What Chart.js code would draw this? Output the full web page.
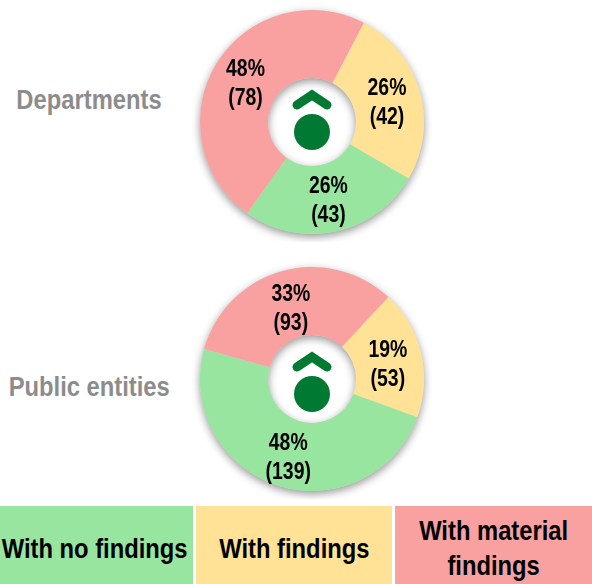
<!DOCTYPE html>
<html>
<head>
<meta charset="utf-8">
<script src="https://cdn.jsdelivr.net/npm/chart.js@4"></script>
<style>
html, body { margin: 0; padding: 0; background: #fff; }
body { position: relative; width: 592px; height: 584px; overflow: hidden; font-family: "Liberation Sans", sans-serif; font-weight: bold; }
canvas { position: absolute; }
.side { position: absolute; width: 178px; color: #8c8c8c; font-size: 27px; line-height: 30px; white-space: nowrap; text-align: center; transform: scaleX(0.88); }
.key { position: absolute; top: 506px; height: 78px; box-sizing: border-box; padding-top: 8px; display: flex; align-items: center; justify-content: center; text-align: center; color: #000; font-size: 27px; line-height: 35px; }
.key span { display: inline-block; white-space: nowrap; transform: scaleX(0.88); }
</style>
</head>
<body>
<div class="side" style="left:0;top:85px">Departments</div>
<div class="side" style="left:-2px;top:372px">Public entities</div>
<canvas id="departments_chart" width="240" height="240" style="left:192px;top:2px"></canvas>
<canvas id="entities_chart" width="240" height="240" style="left:192px;top:259px"></canvas>
<div class="key" style="left:0;width:193px;background:#98e5a0"><span style="margin-left:-4px">With no findings</span></div>
<div class="key" style="left:196px;width:196px;background:#ffe295"><span>With findings</span></div>
<div class="key" style="left:395px;width:197px;background:#f9a0a0"><span>With material<br>findings</span></div>
<script>
const categories = ['With findings', 'With no findings', 'With material findings'];
const colors = ['#ffe295', '#98e5a0', '#f9a0a0'];

const departmentValues = [42, 43, 78];
const departmentPercents = ['26%', '26%', '48%'];

const entityValues = [53, 139, 93];
const entityPercents = ['19%', '48%', '33%'];

// soft shadow under the ring, drawn before the slices go on top
const ringShadow = {
    id: 'ringShadow',
    beforeDatasetsDraw(chart) {
        const arc = chart.getDatasetMeta(0).data[0];
        const ctx = chart.ctx;
        ctx.save();
        ctx.shadowColor = 'rgba(0, 0, 0, 0.42)';
        ctx.shadowBlur = 8;
        ctx.shadowOffsetY = 3;
        ctx.fillStyle = '#ddd';
        ctx.beginPath();
        ctx.arc(arc.x, arc.y, arc.outerRadius, 0, Math.PI * 2);
        ctx.arc(arc.x, arc.y, arc.innerRadius, 0, Math.PI * 2, true);
        ctx.fill();
        ctx.restore();
    }
};

// no narrow font is installed, so the text is squeezed sideways
const sliceLabels = {
    id: 'sliceLabels',
    afterDatasetsDraw(chart, args, opts) {
        const ctx = chart.ctx;
        const values = chart.data.datasets[0].data;
        chart.getDatasetMeta(0).data.forEach((arc, i) => {
            const p = arc.getCenterPoint();
            ctx.save();
            ctx.translate(p.x, p.y + opts.shift);
            ctx.scale(0.81, 1);
            ctx.fillStyle = '#000';
            ctx.font = 'bold 24px "Liberation Sans"';
            ctx.textAlign = 'center';
            ctx.textBaseline = 'middle';
            ctx.fillText(opts.percents[i], 0, -14);
            ctx.fillText('(' + values[i] + ')', 0, 15);
            ctx.restore();
        });
    }
};

// green logo in the hole of the ring
const centerLogo = {
    id: 'centerLogo',
    afterDraw(chart, args, opts) {
        const arc = chart.getDatasetMeta(0).data[0];
        const y = arc.y + opts.shift;
        const ctx = chart.ctx;
        ctx.save();
        ctx.fillStyle = '#007a33';
        ctx.strokeStyle = '#007a33';
        ctx.lineWidth = 9;
        ctx.lineCap = 'round';
        ctx.beginPath();
        ctx.moveTo(arc.x - 15, y - 17);
        ctx.lineTo(arc.x, y - 27);
        ctx.lineTo(arc.x + 15, y - 17);
        ctx.stroke();
        ctx.beginPath();
        ctx.arc(arc.x, y + 10, 18, 0, Math.PI * 2);
        ctx.fill();
        ctx.restore();
    }
};

const donut = (id, values, percents, rotation, labelShift, logoShift) => {
    new Chart(document.getElementById(id), {
        type: 'doughnut',
        data: {
            labels: categories,
            datasets: [{
                data: values,
                backgroundColor: colors,
                borderWidth: 0
            }]
        },
        options: {
            responsive: false,
            animation: false,
            rotation: rotation,
            radius: 112,
            cutout: '39.3%',
            plugins: {
                legend: { display: false },
                tooltip: { enabled: false },
                sliceLabels: { percents: percents, shift: labelShift },
                centerLogo: { shift: logoShift }
            }
        },
        plugins: [ringShadow, sliceLabels, centerLogo]
    });
};

donut('departments_chart', departmentValues, departmentPercents, 27.6, 2, 0);
donut('entities_chart', entityValues, entityPercents, 43, 4, 5);
</script>
</body>
</html>
